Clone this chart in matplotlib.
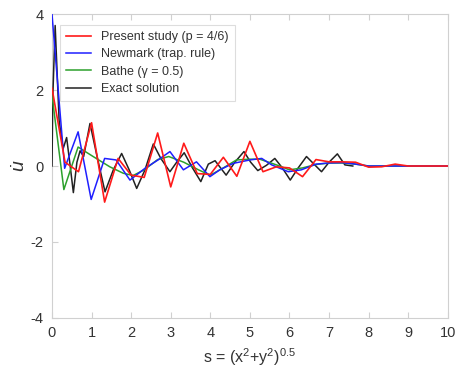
import matplotlib
matplotlib.use("Agg")
import matplotlib.pyplot as plt

plt.rcParams["font.family"] = ["Liberation Sans", "DejaVu Sans"]
plt.rcParams["mathtext.fontset"] = "custom"
plt.rcParams["mathtext.rm"] = "Liberation Sans"
plt.rcParams["mathtext.it"] = "Liberation Sans:italic"
plt.rcParams["axes.unicode_minus"] = False

# velocity along the radial coordinate s
present_s = [0.0, 0.33, 0.67, 1.0, 1.33, 1.67, 2.0, 2.33, 2.67, 3.0, 3.33, 3.67,
             4.0, 4.33, 4.67, 5.0, 5.33, 5.67, 6.0, 6.33, 6.67, 7.0, 7.33, 7.67,
             8.0, 8.33, 8.67, 9.0, 9.33, 10.0]
present_v = [2.05, 0.1, -0.15, 1.14, -0.95, 0.2, -0.24, -0.3, 0.87, -0.55, 0.6, -0.2,
             -0.22, 0.23, -0.27, 0.65, -0.15, -0.02, -0.05, -0.28, 0.17, 0.11, 0.11, 0.1,
             -0.03, -0.02, 0.05, 0.0, 0.0, 0.0]

newmark_s = [0.0, 0.32, 0.66, 0.99, 1.33, 1.62, 1.97, 2.35, 2.68, 2.98, 3.32, 3.65,
             3.99, 4.24, 4.58, 5.0, 5.3, 5.55, 5.97, 6.3, 6.67, 7.0, 7.33, 7.67,
             8.0, 10.0]
newmark_v = [4.0, -0.06, 0.9, -0.88, 0.2, 0.16, -0.37, -0.06, 0.16, 0.38, -0.1, 0.11,
             -0.28, -0.1, 0.07, 0.16, 0.2, 0.03, -0.15, -0.1, 0.05, 0.08, 0.09, 0.05,
             0.0, 0.0]

bathe_s = [0.0, 0.3, 0.66, 1.04, 1.46, 1.8, 2.05, 2.33, 2.67, 2.95, 3.33, 3.7,
           4.0, 4.33, 4.66, 5.0, 5.25, 5.67, 6.0, 6.33, 6.67, 7.0, 7.33, 7.67,
           8.0, 10.0]
bathe_v = [1.87, -0.62, 0.5, 0.25, -0.02, -0.19, -0.25, -0.1, 0.17, 0.25, 0.1, -0.1,
           -0.24, -0.05, 0.16, 0.18, 0.18, 0.03, -0.1, -0.05, 0.04, 0.08, 0.08, 0.05,
           0.0, 0.0]

exact_s = [0.0, 0.02, 0.08, 0.18, 0.28, 0.37, 0.46, 0.54, 0.63, 0.71, 0.8, 0.96,
           1.15, 1.34, 1.55, 1.76, 1.95, 2.14, 2.35, 2.56, 2.75, 2.98, 3.15, 3.34,
           3.55, 3.76, 3.95, 4.12, 4.4, 4.62, 4.85, 5.02, 5.2, 5.42, 5.63, 5.82,
           6.02, 6.22, 6.43, 6.62, 6.81, 7.0, 7.21, 7.4, 7.6]
exact_v = [0.0, 1.8, 3.7, 1.2, 0.45, 0.75, 0.0, -0.7, 0.1, 0.4, 0.25, 1.12,
           0.2, -0.68, -0.1, 0.33, -0.1, -0.59, -0.1, 0.58, 0.2, -0.15, 0.1, 0.35,
           -0.05, -0.41, 0.05, 0.14, -0.24, 0.1, 0.38, 0.1, -0.12, 0.02, 0.2, -0.05,
           -0.37, -0.05, 0.25, 0.05, -0.15, 0.1, 0.32, 0.03, 0.0]

x_ticks = list(range(0, 11))
y_ticks = [-4, -2, 0, 2, 4]

fig = plt.figure(figsize=(4.56, 3.71), dpi=100)
ax = fig.add_axes([0.114, 0.143, 0.868, 0.819])

ax.plot(exact_s, exact_v, color="#222222", lw=1.1, zorder=3, label="Exact solution")
ax.plot(bathe_s, bathe_v, color="#2ca02c", lw=1.1, zorder=4, label="Bathe (γ = 0.5)")
ax.plot(newmark_s, newmark_v, color="#1f1fff", lw=1.1, zorder=5, label="Newmark (trap. rule)")
ax.plot(present_s, present_v, color="#ff1a1a", lw=1.2, zorder=6, label="Present study (p = 4/6)")

ax.set_xlim(0, 10)
ax.set_ylim(-4, 4)
ax.set_xticks(x_ticks)
ax.set_yticks(y_ticks)

for sp in ax.spines.values():
    sp.set_color("#d0d0d0")
    sp.set_linewidth(0.8)
ax.tick_params(direction="in", length=4, width=0.8, color="#d0d0d0",
               labelcolor="#333333", labelsize=10.5, top=True, right=False)
ax.tick_params(axis="x", pad=6)
ax.tick_params(axis="y", pad=6)

ax.set_xlabel(r"s = (x$^{2}$+y$^{2}$)$^{0.5}$", fontsize=11.5, color="#333333", labelpad=4)
ax.set_ylabel(r"$\dot{u}$", fontsize=14, color="#333333", labelpad=1)

handles, labels = ax.get_legend_handles_labels()
order = [3, 2, 1, 0]
leg = ax.legend([handles[i] for i in order], [labels[i] for i in order],
                loc="upper left", bbox_to_anchor=(0.005, 0.985), fontsize=9,
                frameon=True, fancybox=False, edgecolor="#dddddd", framealpha=1,
                handlelength=2.0, labelspacing=0.42, borderpad=0.5)
leg.get_frame().set_linewidth(0.8)
for t in leg.get_texts():
    t.set_color("#333333")

fig.savefig("out.png", dpi=100)
